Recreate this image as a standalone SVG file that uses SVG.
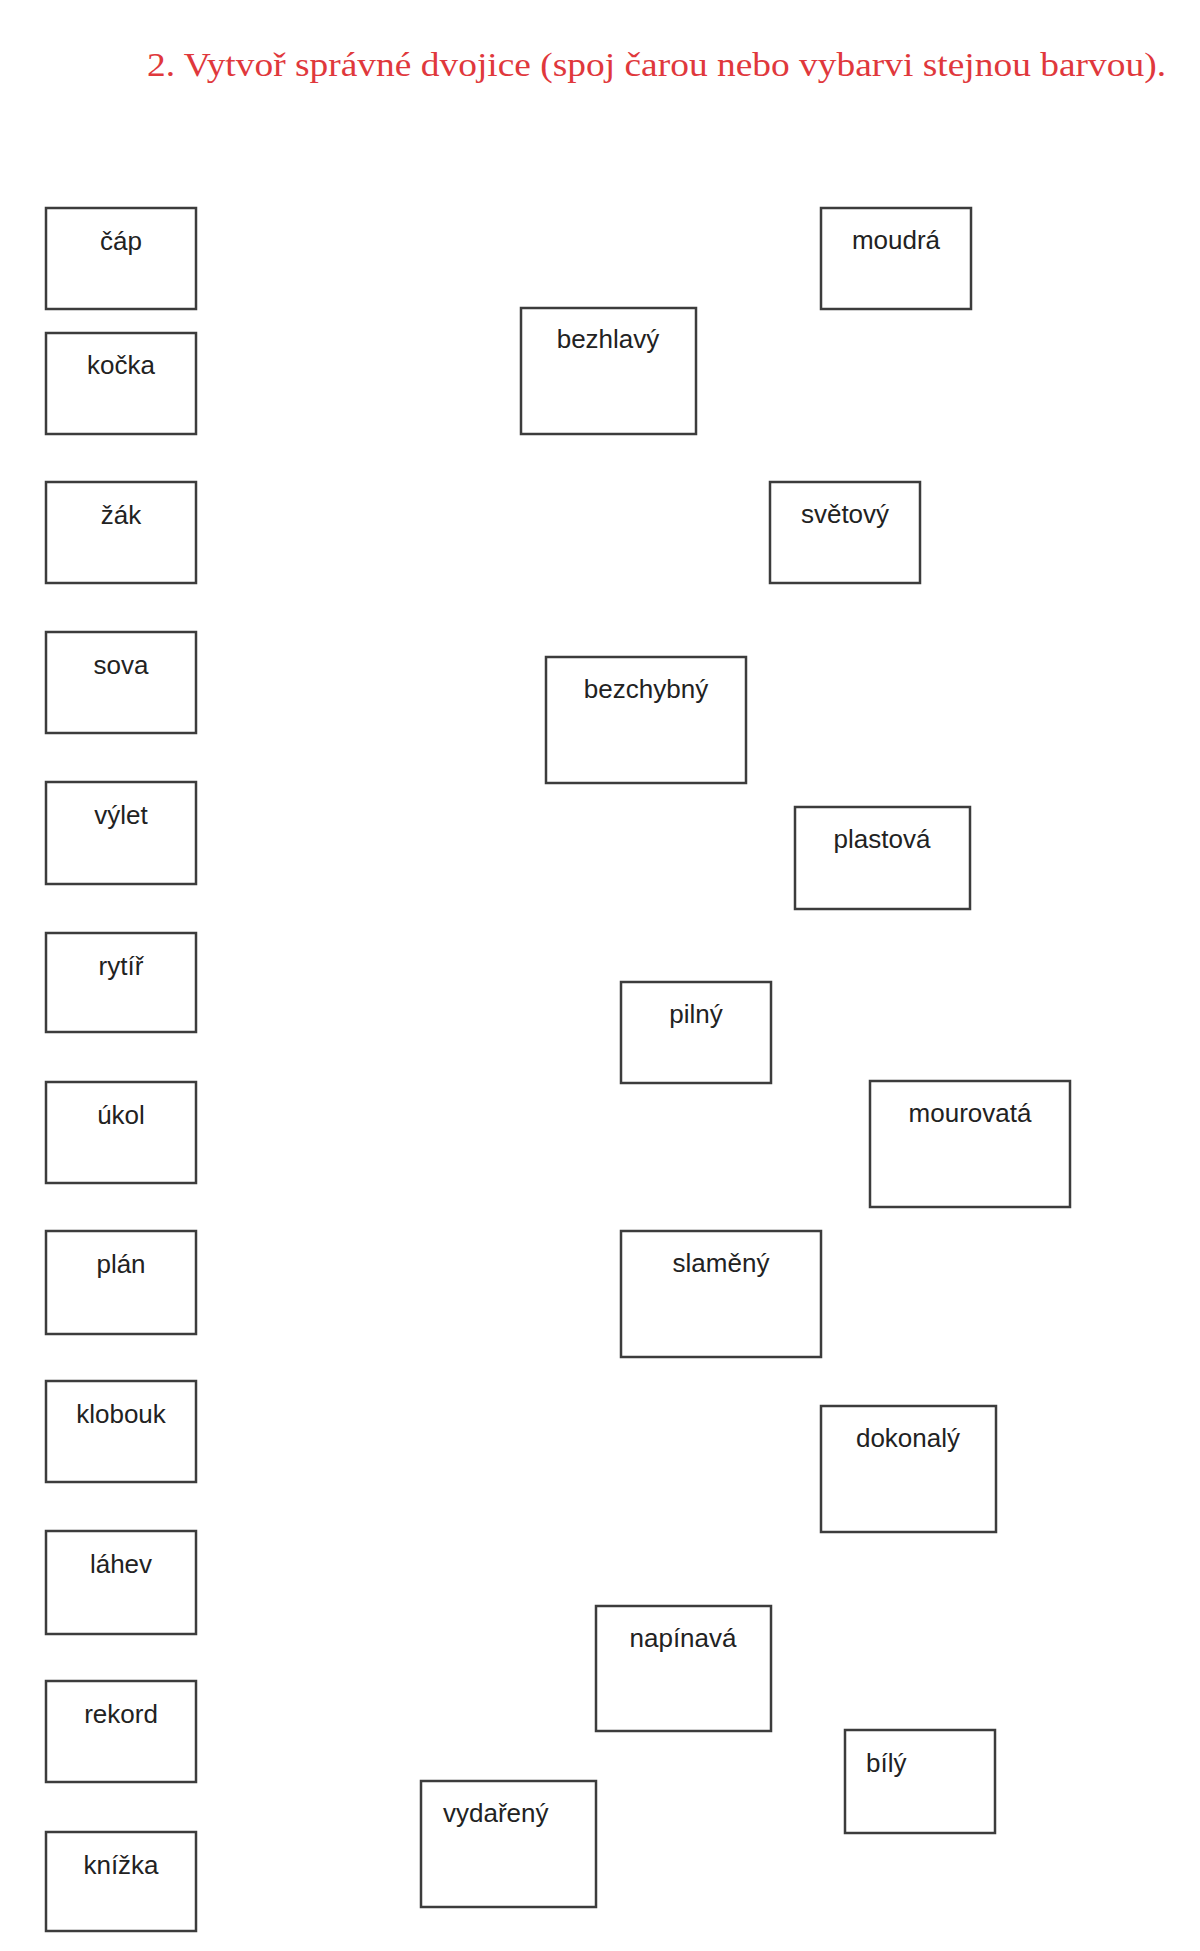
<svg xmlns="http://www.w3.org/2000/svg" width="1200" height="1951" viewBox="0 0 1200 1951">
<style>
.box{fill:#fff;stroke:#3c3c3c;stroke-width:2.5}
.lbl{font-family:"Liberation Sans",Arial,sans-serif;font-size:26px;fill:#222;text-anchor:middle}
.lbs{font-family:"Liberation Sans",Arial,sans-serif;font-size:26px;fill:#222;text-anchor:start}
.title{font-family:"Liberation Serif","Times New Roman",serif;font-size:34px;fill:#e0383c}
</style>
<rect width="1200" height="1951" fill="#fff"/>
<text class="title" x="147" y="76" textLength="1019" lengthAdjust="spacingAndGlyphs">2. Vytvoř správné dvojice (spoj čarou nebo vybarvi stejnou barvou).</text>
<g id="connectors"/>
<g id="n-cap"><rect class="box" x="46" y="208" width="150" height="101"/><text class="lbl" x="121" y="250">čáp</text></g>
<g id="n-kocka"><rect class="box" x="46" y="333" width="150" height="101"/><text class="lbl" x="121" y="374">kočka</text></g>
<g id="n-zak"><rect class="box" x="46" y="482" width="150" height="101"/><text class="lbl" x="121" y="524">žák</text></g>
<g id="n-sova"><rect class="box" x="46" y="632" width="150" height="101"/><text class="lbl" x="121" y="674">sova</text></g>
<g id="n-vylet"><rect class="box" x="46" y="782" width="150" height="102"/><text class="lbl" x="121" y="824">výlet</text></g>
<g id="n-rytir"><rect class="box" x="46" y="933" width="150" height="99"/><text class="lbl" x="121" y="975">rytíř</text></g>
<g id="n-ukol"><rect class="box" x="46" y="1082" width="150" height="101"/><text class="lbl" x="121" y="1124">úkol</text></g>
<g id="n-plan"><rect class="box" x="46" y="1231" width="150" height="103"/><text class="lbl" x="121" y="1273">plán</text></g>
<g id="n-klobouk"><rect class="box" x="46" y="1381" width="150" height="101"/><text class="lbl" x="121" y="1423">klobouk</text></g>
<g id="n-lahev"><rect class="box" x="46" y="1531" width="150" height="103"/><text class="lbl" x="121" y="1573">láhev</text></g>
<g id="n-rekord"><rect class="box" x="46" y="1681" width="150" height="101"/><text class="lbl" x="121" y="1723">rekord</text></g>
<g id="n-knizka"><rect class="box" x="46" y="1832" width="150" height="99"/><text class="lbl" x="121" y="1874">knížka</text></g>
<g id="n-moudra"><rect class="box" x="821" y="208" width="150" height="101"/><text class="lbl" x="896" y="249">moudrá</text></g>
<g id="n-bezhlavy"><rect class="box" x="521" y="308" width="175" height="126"/><text class="lbl" x="608" y="348">bezhlavý</text></g>
<g id="n-svetovy"><rect class="box" x="770" y="482" width="150" height="101"/><text class="lbl" x="845" y="523">světový</text></g>
<g id="n-bezchybny"><rect class="box" x="546" y="657" width="200" height="126"/><text class="lbl" x="646" y="698">bezchybný</text></g>
<g id="n-plastova"><rect class="box" x="795" y="807" width="175" height="102"/><text class="lbl" x="882" y="848">plastová</text></g>
<g id="n-pilny"><rect class="box" x="621" y="982" width="150" height="101"/><text class="lbl" x="696" y="1023">pilný</text></g>
<g id="n-mourovata"><rect class="box" x="870" y="1081" width="200" height="126"/><text class="lbl" x="970" y="1122">mourovatá</text></g>
<g id="n-slameny"><rect class="box" x="621" y="1231" width="200" height="126"/><text class="lbl" x="721" y="1272">slaměný</text></g>
<g id="n-dokonaly"><rect class="box" x="821" y="1406" width="175" height="126"/><text class="lbl" x="908" y="1447">dokonalý</text></g>
<g id="n-napinava"><rect class="box" x="596" y="1606" width="175" height="125"/><text class="lbl" x="683" y="1647">napínavá</text></g>
<g id="n-bily"><rect class="box" x="845" y="1730" width="150" height="103"/><text class="lbs" x="866" y="1772">bílý</text></g>
<g id="n-vydareny"><rect class="box" x="421" y="1781" width="175" height="126"/><text class="lbs" x="443" y="1822">vydařený</text></g>
</svg>
